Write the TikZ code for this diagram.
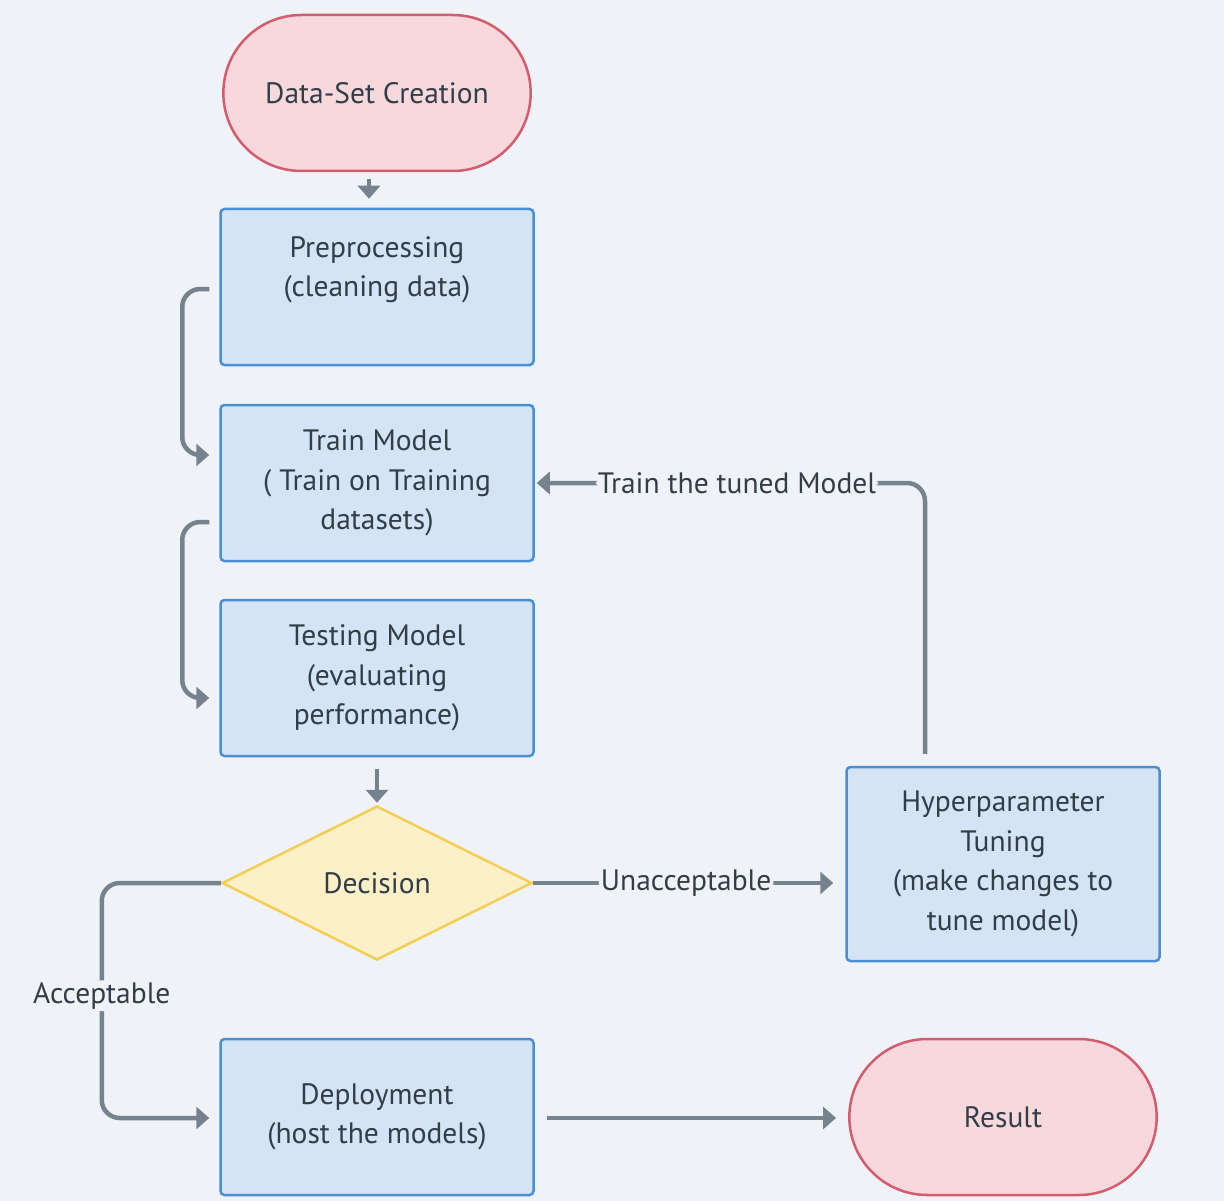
\documentclass[tikz,border=0pt]{standalone}
\usepackage{fontspec}
\setmainfont{PT Sans}
\usetikzlibrary{shapes.geometric,shapes.misc,arrows.meta,calc}

\definecolor{bgcol}{HTML}{EFF3F7}
\definecolor{conncol}{HTML}{76838F}
\definecolor{boxfill}{HTML}{D4E4F5}
\definecolor{boxdraw}{HTML}{4A8FD6}
\definecolor{termfill}{HTML}{F6D8DD}
\definecolor{termdraw}{HTML}{D35D6E}
\definecolor{decfill}{HTML}{FCF0C8}
\definecolor{decdraw}{HTML}{F3CD55}
\definecolor{txtcol}{HTML}{333D47}

\tikzset{
  base/.style={font=\fontsize{29.5}{39.5}\selectfont, text=txtcol, align=center, line width=2.5pt},
  procbox/.style={base, rectangle, rounded corners=4pt, draw=boxdraw, fill=boxfill,
                  minimum width=313pt, minimum height=156pt},
  termbox/.style={base, rounded rectangle, draw=termdraw, fill=termfill,
                  minimum width=314pt, minimum height=156pt},
  decbox/.style={base, diamond, aspect=2, draw=decdraw, fill=decfill,
                 minimum width=310pt, minimum height=154pt, inner sep=0pt},
  conn/.style={draw=conncol, line width=4.5pt, rounded corners=18pt,
               -{Triangle[length=13pt,width=22pt]}},
  lbl/.style={font=\fontsize{29.5}{39.5}\selectfont, text=txtcol, fill=bgcol, inner sep=2pt}
}

\begin{document}
\begin{tikzpicture}[x=1pt,y=-1pt]
\fill[bgcol] (0,0) rectangle (1224,1201);
\useasboundingbox (0,0) rectangle (1224,1201);

% stages of the pipeline
\node[termbox] (data) at (377,93)  {Data-Set Creation};
\node[procbox] (pre)  at (377,287) {Preprocessing\\(cleaning data)\\[1pt]};
\node[procbox] (train) at (377,483) {Train Model\\( Train on Training\\datasets)};
\node[procbox] (test) at (377,678) {Testing Model\\(evaluating\\performance)};
\node[decbox]  (dec)  at (377,883) {Decision};
\node[procbox, minimum height=194pt] (hyp) at (1003,864)
      {Hyperparameter\\Tuning\\(make changes to\\tune model)};
\node[procbox] (dep)  at (377,1117) {Deployment\\(host the models)};
\node[termbox] (res)  at (1003,1117) {Result};

% flow between stages
\draw[conn] ($(data.south)+(-8,7)$) -- ($(pre.north)+(-8,-9)$);
\draw[conn] ($(pre.west)+(-10,2)$) -- ++(-27,0) |- ($(train.west)+(-10,-28)$);
\draw[conn] ($(train.west)+(-10,39)$) -- ++(-27,0) |- ($(test.west)+(-10,20)$);
\draw[conn] ($(test.south)+(0,12)$) -- ($(dec.north)+(0,-2)$);
\draw[conn, shorten >=12pt] (dec.east) -- node[lbl, pos=0.49] {Unacceptable} (dec.east -| hyp.west);
\draw[conn, shorten >=2pt] ($(hyp.north)+(-78,-12)$) |- node[lbl, pos=0.741] {Train the tuned Model} (train.east);
\draw[conn] (dec.west) -- ++(-119,0) |- node[lbl, pos=0.24] {Acceptable} ($(dep.west)+(-10,1)$);
\draw[conn, shorten >=12pt] ($(dep.east)+(12,1)$) -- ($(res.west)+(0,1)$);
\end{tikzpicture}
\end{document}
